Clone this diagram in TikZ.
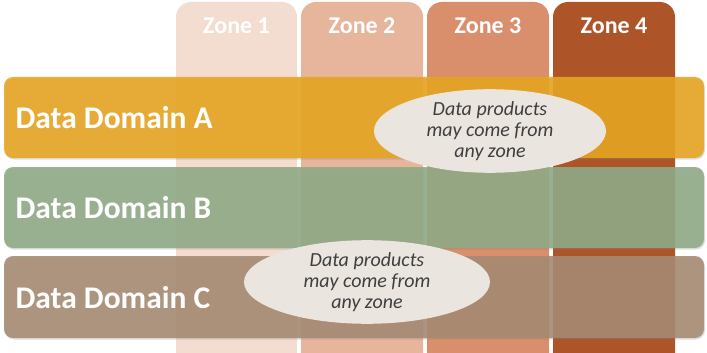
\documentclass[tikz,border=0pt]{standalone}
\usepackage{fontspec}
\setmainfont{Carlito}
\usetikzlibrary{shapes.geometric,positioning,shadows}
\definecolor{zoneA}{HTML}{F2DDD0}
\definecolor{zoneB}{HTML}{E6B59C}
\definecolor{zoneC}{HTML}{D98E6C}
\definecolor{zoneD}{HTML}{AD5429}
\definecolor{domA}{HTML}{E8A51F}
\definecolor{domB}{HTML}{8FAA86}
\definecolor{domC}{HTML}{A68A72}
\definecolor{bubble}{HTML}{EAE5DE}
\definecolor{bubtext}{HTML}{3F3F3F}

\begin{document}
\begin{tikzpicture}[x=1pt,y=-1pt]%
        \useasboundingbox (0,0) rectangle (707,353);%%
        \tikzstyle{zonelbl}=[text=white,font=\bfseries\fontsize{24}{26}\selectfont] %%
        \tikzstyle{domlbl}=[text=white,font=\bfseries\fontsize{31.5}{34}\selectfont,anchor=west] %%
        \tikzstyle{band}=[rounded corners=9pt,opacity=.88,drop shadow={opacity=.25,shadow xshift=1pt,shadow yshift=-1.5pt}] %%
        \tikzstyle{note}=[ellipse,fill=bubble,text=bubtext,align=center,inner sep=0pt,font=\itshape\fontsize{20}{21}\selectfont] %%
        % zone columns
        \fill[zoneA] (176,353) [rounded corners=15pt]-- (176,2) -- (297,2) [sharp corners]-- (297,353) -- cycle;%%
        \fill[zoneB] (301,353) [rounded corners=15pt]-- (301,2) -- (423,2) [sharp corners]-- (423,353) -- cycle;%%
        \fill[zoneC] (427,353) [rounded corners=15pt]-- (427,2) -- (549,2) [sharp corners]-- (549,353) -- cycle;%%
        \fill[zoneD] (553,353) [rounded corners=15pt]-- (553,2) -- (675,2) [sharp corners]-- (675,353) -- cycle;%%
        \node[zonelbl] (z1) at (236.5,26) {Zone 1}; %%
        \node[zonelbl] (z2) at (362,26) {Zone 2}; %%
        \node[zonelbl] (z3) at (488,26) {Zone 3}; %%
        \node[zonelbl] (z4) at (614,26) {Zone 4}; %%
        % domain bands
        \fill[band,domA] (4,77) rectangle (704,158);%%
        \fill[band,domB] (4,167) rectangle (704,248);%%
        \fill[band,domC] (4,256) rectangle (704,338);%%
        \node[domlbl] (da) at (12,118) {Data Domain A}; %%
        \node[domlbl] (db) at (12,208) {Data Domain B}; %%
        \node[domlbl] (dc) at (12,298) {Data Domain C}; %%
        % notes
        \node[note,minimum width=232pt,minimum height=80pt] (n1) at (490,131) {Data products\\may come from\\any zone}; %%
        \node[note,minimum width=246pt,minimum height=82pt] (n2) at (367,282) {Data products\\may come from\\any zone}; %%
\end{tikzpicture}
\end{document}
